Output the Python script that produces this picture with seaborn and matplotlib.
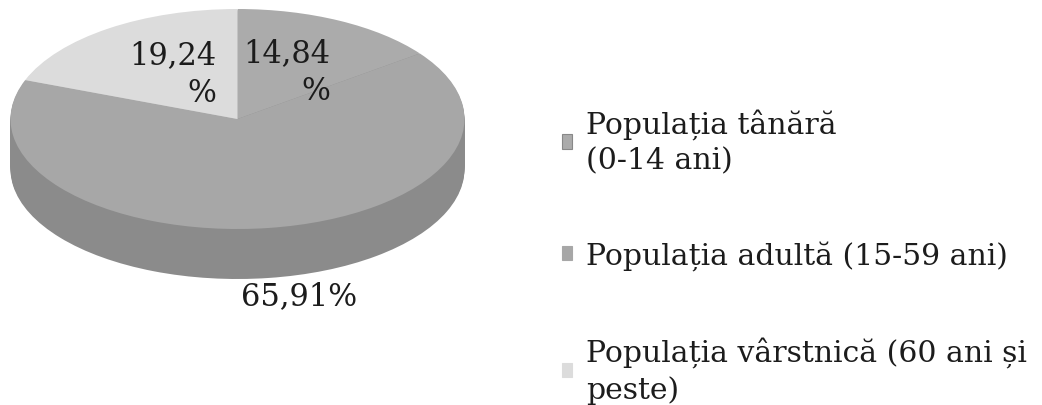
import numpy as np
import matplotlib
matplotlib.use("Agg")
import matplotlib.pyplot as plt
import seaborn as sns
from matplotlib.patches import Patch

categories = ["Populația tânără\n(0-14 ani)",
              "Populația adultă (15-59 ani)",
              "Populația vârstnică (60 ani și\npeste)"]
values = [14.84, 65.91, 19.24]
pct_labels = ["14,84\n%", "65,91%", "19,24\n%"]

sns.set_style("white")
plt.rcParams['font.family'] = ['DejaVu Serif']

top_colors = ["#ababab", "#a7a7a7", "#dcdcdc"]
side_colors = ["#8e8e8e", "#8b8b8b", "#bdbdbd"]

W, H = 1042, 406
fig = plt.figure(figsize=(W / 100, H / 100), dpi=100)
fig.patch.set_facecolor("white")

ax = fig.add_axes([0, 0, 475 / W, 1])
rx, ry = 227, 110        # pixel semi-axes of the top ellipse
cy_top = 120             # pixel y of centre from top
depth = 50 / ry          # depth in y data units

# side layers
n_layers = 40
for d in np.linspace(depth, 0.01, n_layers):
    ax.pie(values, startangle=90, counterclock=False, colors=side_colors,
           center=(0, -d), radius=1, frame=True,
           wedgeprops=dict(linewidth=0))
wedges, _ = ax.pie(values, startangle=90, counterclock=False, colors=top_colors,
                   center=(0, 0), radius=1, frame=True,
                   wedgeprops=dict(linewidth=0))

ax.set_aspect('auto')
ax.set_xlim(-(475 / 2) / rx, (475 / 2) / rx)
ax.set_ylim(-(H - cy_top) / ry, cy_top / ry)
ax.axis('off')

dists = [0.48, 1.62, 0.5]
for w, lab, dist in zip(wedges, pct_labels, dists):
    ang = np.deg2rad((w.theta1 + w.theta2) / 2)
    ax.text(dist * np.cos(ang) + (0.05 if dist > 1 else 0), dist * np.sin(ang), lab,
            ha='center', va='center', multialignment='right', fontsize=22,
            color="#1c1c1c", linespacing=1.3)

handles = [Patch(facecolor=c, edgecolor="#888888" if i == 0 else c, linewidth=0.8)
           for i, c in enumerate(top_colors)]
leg = fig.legend(handles, categories, loc='upper left', bbox_to_anchor=(547 / W, 1 - 94 / H),
                 frameon=False, fontsize=21.5, labelspacing=2.2, handlelength=0.35,
                 handleheight=0.35, handletextpad=0.45, borderpad=0)
for t in leg.get_texts():
    t.set_color("#1c1c1c")
    t.set_linespacing(1.35)

fig.savefig("out.png", dpi=100, facecolor="white")
